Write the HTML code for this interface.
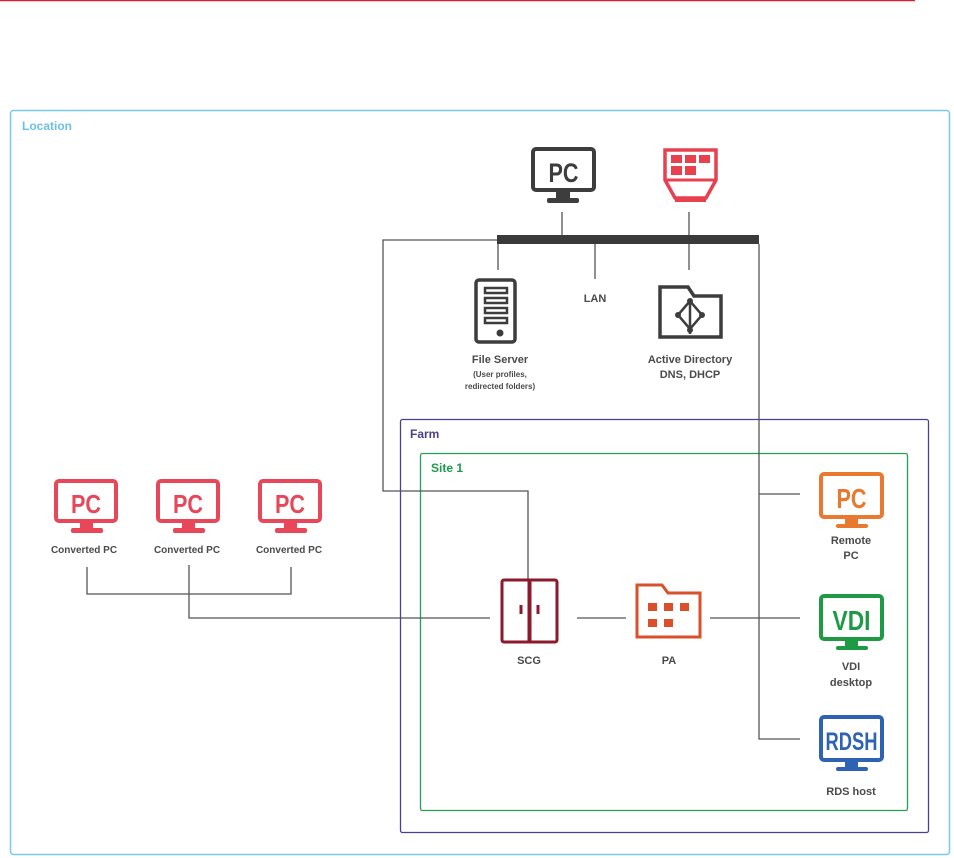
<!DOCTYPE html>
<html><head><meta charset="utf-8"><style>
html,body{margin:0;padding:0;background:#fff}
svg{display:block}
text{font-family:"Liberation Sans",sans-serif;font-weight:bold}
.lbl{fill:#4a4a4a;text-anchor:middle}
.pc{font-family:"Liberation Sans",sans-serif;font-weight:bold;text-anchor:middle}
.ln{stroke:#555;stroke-width:1.3;fill:none}
</style></head><body>
<svg width="954" height="858" viewBox="0 0 954 858" xmlns="http://www.w3.org/2000/svg">
<line x1="0" y1="0.5" x2="915" y2="0.5" stroke="#d9202e" stroke-width="1.5"/>
<rect x="10.5" y="110.5" width="939" height="744" rx="3" fill="none" stroke="#7cc7ec" stroke-width="1.5"/>
<text x="22" y="130" font-size="12" fill="#6cbfe8">Location</text>
<rect x="400.5" y="419.5" width="528" height="413" rx="2" fill="none" stroke="#4b3f8c" stroke-width="1.3"/>
<text x="410" y="438" font-size="12" fill="#4b3f8c">Farm</text>
<rect x="420.5" y="453.5" width="487" height="357" rx="2" fill="none" stroke="#23a055" stroke-width="1.3"/>
<text x="431" y="472" font-size="12" fill="#1e9a4e">Site 1</text>

<path class="ln" d="M562 212V235M689 212V270M498 244V270M595 244V279"/>
<path class="ln" d="M497 240H383V491H528V580"/>
<path class="ln" d="M759 244V739H800M759 494H800M710 618H800M577 618H626"/>
<path class="ln" d="M87 567V594H291V567M189 565V618H490"/>
<rect x="497" y="235" width="262" height="9" fill="#3a3a3a"/>

<g>
<rect x="533" y="149" width="61" height="41" rx="3" fill="none" stroke="#3d3d3d" stroke-width="4"/>
<text x="563.5" y="182" font-size="27" class="pc" fill="#3d3d3d" textLength="30" lengthAdjust="spacingAndGlyphs">PC</text>
<rect x="556" y="192" width="14" height="6" fill="#3d3d3d"/><rect x="547" y="198" width="32" height="5" rx="2" fill="#3d3d3d"/>
</g>
<g fill="#e8404f">
<path d="M665 150h51v30l-10 18h-31l-10-18z" fill="none" stroke="#e8404f" stroke-width="3.5"/>
<line x1="666" y1="180" x2="715" y2="180" stroke="#e8404f" stroke-width="3"/>
<rect x="671" y="155" width="11" height="8"/><rect x="685" y="155" width="11" height="8"/><rect x="699" y="155" width="11" height="8"/>
<rect x="671" y="166" width="11" height="9"/><rect x="685" y="166" width="11" height="9"/>
<rect x="675" y="197" width="31" height="5"/>
</g>
<g>
<rect x="476" y="280" width="39" height="62" rx="3" fill="none" stroke="#3d3d3d" stroke-width="3.5"/>
<g fill="none" stroke="#3d3d3d" stroke-width="2.5"><rect x="485" y="288" width="22" height="5"/><rect x="485" y="298" width="22" height="5"/><rect x="485" y="308" width="22" height="5"/><rect x="485" y="318" width="22" height="5"/></g>
<circle cx="500" cy="333" r="3.5" fill="#3d3d3d"/>
</g>
<text x="595" y="302" class="lbl" style="font-size:11px">LAN</text>
<text x="500" y="363" class="lbl" style="font-size:11px">File Server</text>
<text x="500" y="377" class="lbl" style="font-size:8px">(User profiles,</text>
<text x="500" y="389" class="lbl" style="font-size:8px">redirected folders)</text>
<g fill="none" stroke="#3d3d3d" stroke-width="3.5">
<path d="M660 287h28l6 9h27v41h-61z"/>
<path d="M690 301v33M690 301l-12 14 12 14 12-14z" stroke-width="2.5"/>
</g>
<g fill="#3d3d3d"><circle cx="690" cy="301" r="3"/><circle cx="678" cy="315" r="3"/><circle cx="702" cy="315" r="3"/><circle cx="690" cy="330" r="3"/></g>
<text x="690" y="363" class="lbl" style="font-size:11px">Active Directory</text>
<text x="690" y="378" class="lbl" style="font-size:11px">DNS, DHCP</text>

<g fill="#e8475a">
<g id="cpc">
<rect x="56" y="481" width="60" height="40" rx="3" fill="none" stroke="#e8475a" stroke-width="4"/>
<text x="86" y="513" font-size="26" class="pc" fill="#e8475a" textLength="30" lengthAdjust="spacingAndGlyphs">PC</text>
<rect x="80" y="523" width="13" height="5"/><rect x="71" y="528" width="32" height="5" rx="2"/>
</g>
<use href="#cpc" x="102"/><use href="#cpc" x="204"/>
</g>
<text x="84" y="553" class="lbl" style="font-size:10px">Converted PC</text>
<text x="187" y="553" class="lbl" style="font-size:10px">Converted PC</text>
<text x="289" y="553" class="lbl" style="font-size:10px">Converted PC</text>

<g fill="none" stroke="#8b1a2b" stroke-width="3">
<rect x="502" y="580" width="55" height="62" rx="2"/>
<line x1="529.5" y1="580" x2="529.5" y2="642" stroke-width="4"/>
<line x1="521" y1="605" x2="521" y2="614"/><line x1="538" y1="605" x2="538" y2="614"/>
</g>
<text x="529" y="664" class="lbl" style="font-size:11px">SCG</text>
<g>
<path d="M637 585h25l6 8h32v44h-63z" fill="none" stroke="#d9502a" stroke-width="3"/>
<g fill="#d9502a"><rect x="648" y="603" width="9" height="8"/><rect x="664" y="603" width="9" height="8"/><rect x="680" y="603" width="9" height="8"/><rect x="648" y="619" width="9" height="8"/><rect x="664" y="619" width="9" height="8"/></g>
</g>
<text x="669" y="664" class="lbl" style="font-size:11px">PA</text>

<g fill="#e8792f">
<rect x="821" y="474" width="61" height="43" rx="3" fill="none" stroke="#e8792f" stroke-width="4"/>
<text x="851.5" y="508" font-size="28" class="pc" fill="#e8792f" textLength="30" lengthAdjust="spacingAndGlyphs">PC</text>
<rect x="845" y="519" width="13" height="5"/><rect x="836" y="524" width="32" height="4" rx="2"/>
</g>
<text x="851" y="544" class="lbl" style="font-size:11px">Remote</text>
<text x="851" y="559" class="lbl" style="font-size:11px">PC</text>
<g fill="#1f9a44">
<rect x="821" y="596" width="61" height="43" rx="3" fill="none" stroke="#1f9a44" stroke-width="4"/>
<text x="851.5" y="630" font-size="28" class="pc" fill="#1f9a44" textLength="38" lengthAdjust="spacingAndGlyphs">VDI</text>
<rect x="845" y="641" width="13" height="5"/><rect x="836" y="646" width="32" height="4" rx="2"/>
</g>
<text x="851" y="670" class="lbl" style="font-size:11px">VDI</text>
<text x="851" y="686" class="lbl" style="font-size:11px">desktop</text>
<g fill="#2e62b3">
<rect x="821" y="717" width="61" height="43" rx="3" fill="none" stroke="#2e62b3" stroke-width="4"/>
<text x="851.5" y="750" font-size="25" class="pc" fill="#2e62b3" textLength="52" lengthAdjust="spacingAndGlyphs">RDSH</text>
<rect x="845" y="762" width="13" height="5"/><rect x="836" y="767" width="32" height="4" rx="2"/>
</g>
<text x="851" y="795" class="lbl" style="font-size:11px">RDS host</text>
</svg>
</body></html>
